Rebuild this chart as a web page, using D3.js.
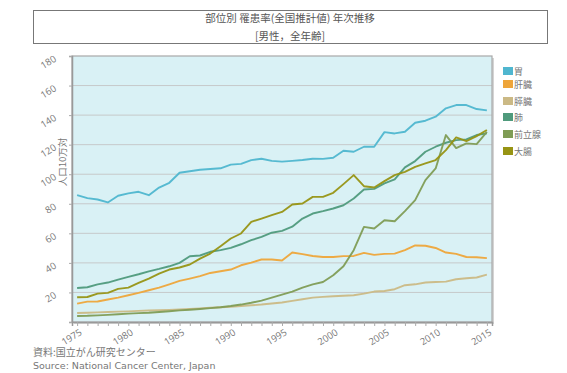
<!DOCTYPE html>
<html><head><meta charset="utf-8">
<script src="https://cdn.jsdelivr.net/npm/d3@7"></script>
<style>body{margin:0;background:#fff;font-family:"Noto Sans CJK JP","Noto Sans",sans-serif;}</style>
</head><body>
<svg id="c" width="567" height="373"></svg>
<script>
const years = d3.range(1975, 2016);
const yTicks = [0,20,40,60,80,100,120,140,160,180];
const xLabelYears = [1975,1980,1985,1990,1995,2000,2005,2010,2015];
const seriesNames = ["胃","肝臓","膵臓","肺","前立腺","大腸"];
const seriesColors = ["#4fb6cf","#eea53a","#cbb985","#4f9a7c","#7f9c55","#979414"];
const stomach = [85.8,83.8,82.9,80.9,85.4,87,88.1,85.8,91,94.2,101,102,103,103.5,104,106.5,107,109.5,110.5,109,108.5,109,109.6,110.5,110.4,111.1,115.9,115.2,118.6,118.6,128.5,127.6,128.7,134.8,136.2,138.9,144.6,146.8,146.8,144.1,143.2];
const liver = [12.4,13.8,13.9,15.2,16.5,18.1,19.7,21.5,23.3,25.5,27.8,29.4,31,33.2,34.3,35.5,38.4,40.2,42.3,42.3,41.6,47,45.9,44.7,44,44,44.6,44.7,46.8,45.4,46.1,46.3,48.6,51.8,51.6,50.1,47,46.1,44,43.8,43.2];
const pancreas = [6.1,6.3,6.5,6.8,7.0,7.2,7.5,7.8,8.0,8.2,8.5,8.8,9.2,9.6,10.0,10.3,10.8,11.3,11.8,12.5,13.2,14.3,15.4,16.5,17.0,17.4,17.8,18.1,19.2,20.6,21.0,22.2,24.9,25.5,26.7,27.1,27.3,28.9,29.6,30.1,32.1];
const lung = [23.0,23.5,25.5,26.7,28.7,30.5,32.3,34.3,35.9,37.7,40.0,44.5,45.0,47.5,48.6,50.2,52.6,55.4,57.6,60.4,61.7,64.5,70.0,73.4,75.0,76.8,79.0,83.6,89.7,90.1,93.8,96.5,104.6,108.9,115.2,118.6,121.3,123.1,123.6,126.5,127.6];
const prostate = [4.1,4.2,4.5,4.8,5.2,5.7,6.0,6.3,6.8,7.3,7.9,8.3,8.8,9.4,10.0,10.8,11.8,13.0,14.5,16.5,18.5,20.5,23.3,25.5,27.1,31.6,37.7,48.6,64.4,63.3,68.9,68.2,75.0,82.5,96.0,103.9,126.5,117.7,120.9,120.4,128.7];
const colon = [16.7,16.9,19.2,19.7,22.4,23.3,26.4,29.4,32.8,35.5,36.9,38.9,42.9,46.3,51.3,56.5,59.9,67.8,70.0,72.3,74.5,79.5,80.2,84.7,84.7,87.4,93.3,99.4,91.9,91.0,95.3,99.4,101.6,105.0,107.3,109.6,116.3,124.9,122.4,125.8,129.9];
const titleText = "部位別 罹患率(全国推計値) 年次推移";
const subtitleText = "[男性，全年齢]";
const yAxisTitle = "人口10万対";
const sourceLines = ["資料:国立がん研究センター","Source: National Cancer Center, Japan"];

const seriesData = [stomach, liver, pancreas, lung, prostate, colon];
const svg = d3.select("#c");
const L = 72, R = 492, T = 56, B = 322;
const x = d3.scalePoint().domain(years).range([L, R]).padding(0.5);
const y = d3.scaleLinear().domain([0, 180]).range([B, T]);
const gray = "#777";

// title box
svg.append("rect").attr("x", 33.5).attr("y", 10.5).attr("width", 514).attr("height", 33)
  .attr("fill", "#fff").attr("stroke", "#777").attr("stroke-width", 1);
svg.append("text").attr("x", 290).attr("y", 22).attr("text-anchor", "middle")
  .attr("font-size", 10.5).attr("fill", "#555").text(titleText);
svg.append("text").attr("x", 290).attr("y", 40).attr("text-anchor", "middle")
  .attr("font-size", 10.5).attr("fill", "#555").text(subtitleText);

// plot background with shadow
svg.append("rect").attr("x", L + 2).attr("y", T + 2).attr("width", R - L).attr("height", B - T).attr("fill", "#d4d4d4");
svg.append("rect").attr("x", L).attr("y", T).attr("width", R - L).attr("height", B - T).attr("fill", "#d9f1f5");

// grid
svg.append("g").selectAll("line").data(yTicks.filter(d => d > 0 && d < 180)).join("line")
  .attr("x1", L).attr("x2", R).attr("y1", d => y(d)).attr("y2", d => y(d))
  .attr("stroke", "#c6c9ca").attr("stroke-width", 1);

svg.append("rect").attr("x", L).attr("y", T).attr("width", R - L).attr("height", B - T)
  .attr("fill", "none").attr("stroke", "#a8a8a8").attr("stroke-width", 1.2);

// lines
const line = d3.line().x((d, i) => x(years[i])).y(d => y(d));
svg.append("g").selectAll("path").data(seriesData).join("path")
  .attr("d", d => line(d)).attr("fill", "none")
  .attr("stroke", (d, i) => seriesColors[i]).attr("stroke-width", 1.9)
  .attr("stroke-linejoin", "round").attr("opacity", 0.95);

// x axis
const xAxis = d3.axisBottom(x).tickValues(years).tickSize(4)
  .tickFormat(d => xLabelYears.includes(d) ? String(d) : "");
const gx = svg.append("g").attr("transform", `translate(0,${B})`).call(xAxis);
gx.select(".domain").attr("stroke", "#999").attr("stroke-width", 1.5);
gx.selectAll(".tick line").attr("stroke", "#aaa");
gx.selectAll(".tick text").attr("fill", gray).attr("font-size", 9.5)
  .attr("font-family", "Open Sans, DejaVu Sans, sans-serif")
  .attr("text-anchor", "end").attr("dy", 0).attr("y", 0)
  .attr("transform", "translate(5,12) rotate(-32)");

// y axis
const yAxis = d3.axisLeft(y).tickValues(yTicks).tickSize(3)
  .tickFormat(d => d === 0 ? "" : String(d));
const gy = svg.append("g").attr("transform", `translate(${L},0)`).call(yAxis);
gy.select(".domain").attr("stroke", "#999").attr("stroke-width", 1.5);
gy.selectAll(".tick line").attr("stroke", "#aaa");
gy.selectAll(".tick text").attr("fill", gray).attr("font-size", 9.5)
  .attr("font-family", "Open Sans, DejaVu Sans, sans-serif")
  .attr("x", 0).attr("dy", 0).attr("text-anchor", "end")
  .attr("transform", "translate(-15,4) rotate(-32)");

// y axis title
svg.append("text").attr("transform", "translate(66,162) rotate(-90)").attr("text-anchor", "middle")
  .attr("font-size", 9.5).attr("fill", gray).text(yAxisTitle);

// legend
const leg = svg.append("g").selectAll("g").data(seriesNames).join("g")
  .attr("transform", (d, i) => `translate(503,${[67,80,97,113,130,147][i]})`);
leg.append("rect").attr("width", 10).attr("height", 8).attr("fill", (d, i) => seriesColors[i]);
leg.append("text").attr("x", 11).attr("y", 7.5).attr("font-size", 9).attr("fill", gray).text(d => d);

// source
svg.selectAll("text.src").data(sourceLines).join("text").attr("class", "src")
  .attr("x", 33).attr("y", (d, i) => 356 + i * 13)
  .attr("font-size", (d, i) => i === 0 ? 10 : 9.5)
  .attr("font-family", (d, i) => i === 0 ? "Noto Sans CJK JP, sans-serif" : "DejaVu Sans, sans-serif")
  .attr("fill", gray).text(d => d);
</script>
</body></html>
